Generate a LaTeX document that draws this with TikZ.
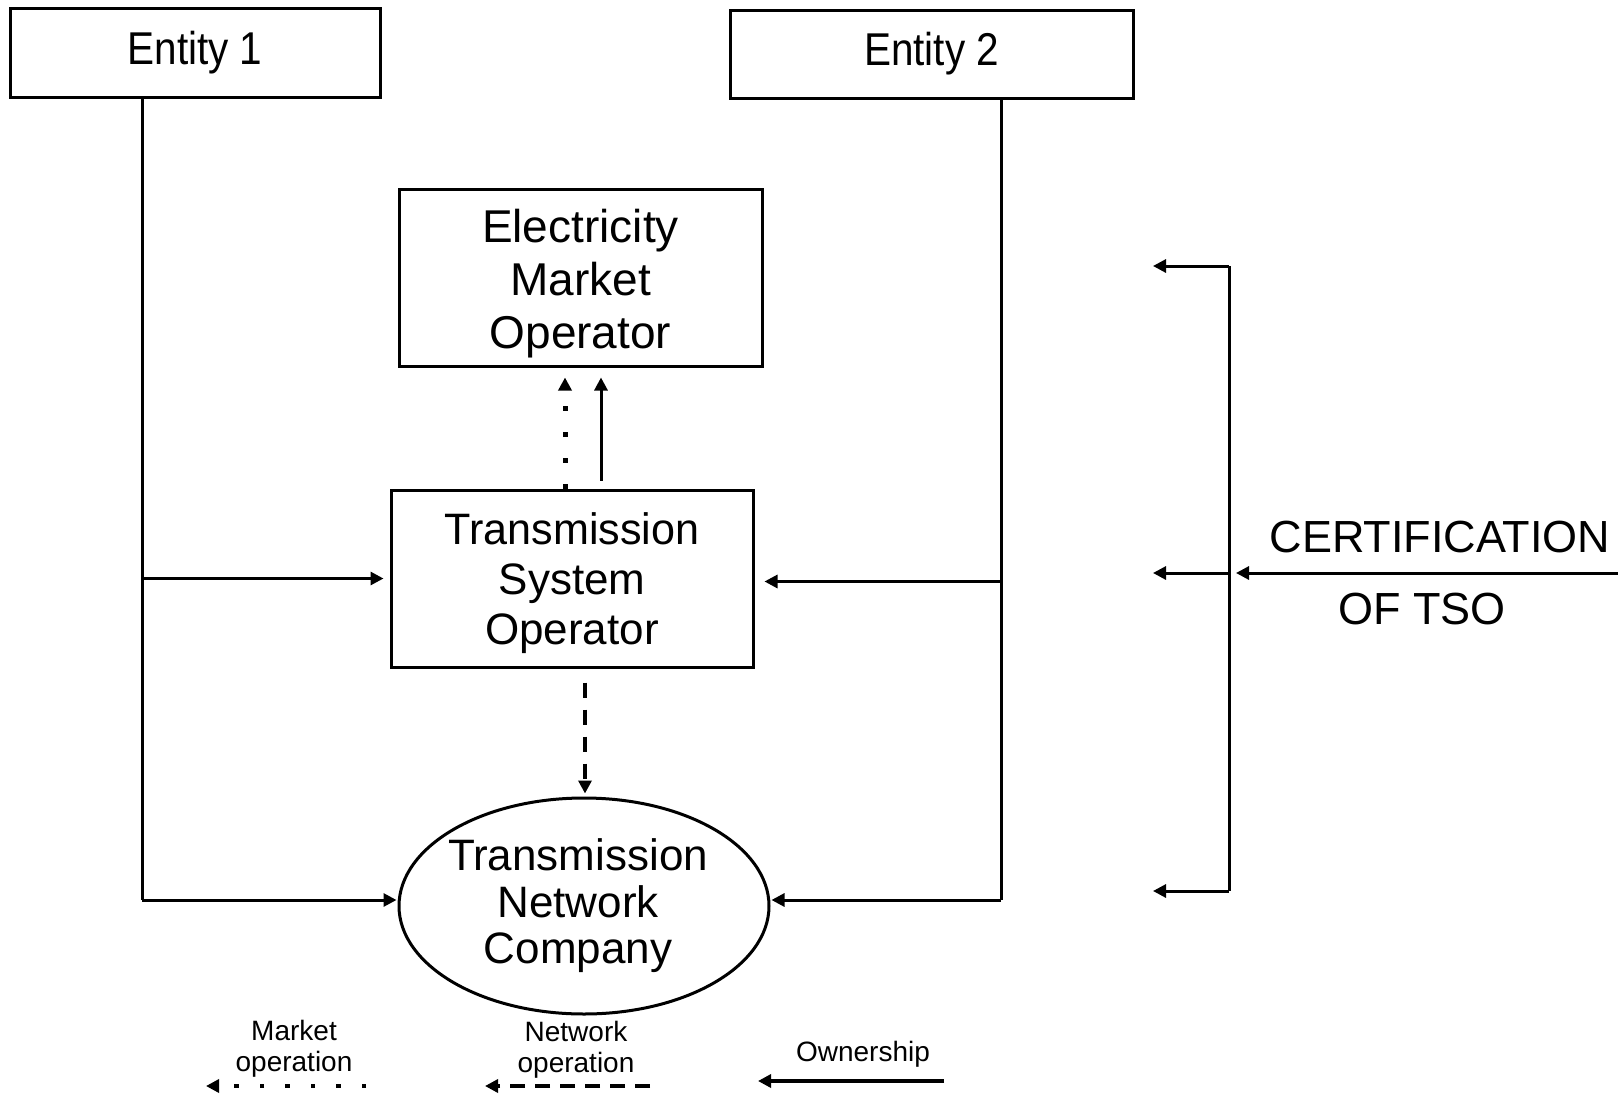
\documentclass[tikz,border=0pt]{standalone}
\usepackage{fontspec}
\setmainfont{Liberation Sans}
\usetikzlibrary{arrows.meta,shapes.geometric}
\begin{document}
\begin{tikzpicture}[x=1pt,y=-1pt,
  box/.style={draw, line width=3pt, inner sep=0pt, align=center},
  txt/.style={inner sep=0pt, align=center},
  tipst/.style={-{Triangle[length=13pt,width=13pt]}},
  conn/.style={line width=3pt, tipst},
  dotconn/.style={line width=5pt, dash pattern=on 5pt off 21pt, tipst},
  dashconn/.style={line width=4pt, dash pattern=on 15pt off 12pt, tipst},
  plainline/.style={line width=3pt},
  bigtxt/.style={font=\fontsize{46}{53}\selectfont},
  midtxt/.style={font=\fontsize{44}{50}\selectfont},
  smalltxt/.style={font=\fontsize{28}{31}\selectfont, align=center, inner sep=0pt}
]
\useasboundingbox (0,0) rectangle (1618,1095);

% boxes
\node[box, bigtxt, minimum width=370pt, minimum height=89pt] (e1) at (195,52.5) {\scalebox{0.88}[1]{Entity 1}};
\node[box, bigtxt, minimum width=403pt, minimum height=88pt] (e2) at (931.5,54) {\scalebox{0.88}[1]{Entity 2}};
\node[box, minimum width=363pt, minimum height=177pt] (emo) at (580.5,277.5) {};
\node[txt, bigtxt] (emot) at ([yshift=-6pt]emo.center) {Electricity\\Market\\Operator};
\node[box, minimum width=362pt, minimum height=177pt] (tso) at (572,578.5) {};
\node[txt, midtxt] (tsot) at ([yshift=-5pt]tso.center) {\scalebox{0.98}[1]{Transmission}\\System\\Operator};
\node[box, ellipse, minimum width=370pt, minimum height=216pt] (tnc) at (584,906) {};
\node[txt, font=\fontsize{44}{46.5}\selectfont] (tnct) at ([xshift=-6pt]tnc.center) {Transmission\\Network\\Company};

% entity 1 line
\coordinate (x1) at (142,0);
\coordinate (e1b) at (e1.south -| x1);
\coordinate (e1c) at ([yshift=6pt]x1 |- tnc.west);
\draw[plainline] (e1b) -- (e1c);
\draw[conn, shorten >=6pt] (x1 |- tso.west) -- (tso.west);
\draw[conn, shorten >=1pt] (e1c) -- ([yshift=6pt]tnc.west);

% entity 2 line
\coordinate (x2) at (1001,0);
\coordinate (e2b) at (e2.south -| x2);
\coordinate (e2c) at ([yshift=6pt]x2 |- tnc.east);
\draw[plainline] (e2b) -- (e2c);
\draw[conn, shorten >=10pt] ([yshift=-3pt]x2 |- tso.east) -- ([yshift=-3pt]tso.east);
\draw[conn, shorten >=1pt] (e2c) -- ([yshift=6pt]tnc.east);

% TSO -> EMO
\coordinate (xd) at (565,0);
\coordinate (xs) at (601,0);
\draw[dotconn, shorten >=10pt] (xd |- tso.north) -- (xd |- emo.south);
\draw[conn, shorten >=10pt, shorten <=8pt] (xs |- tso.north) -- (xs |- emo.south);

% TSO -> TNC
\coordinate (xt) at (585,0);
\draw[dashconn, shorten <=14pt, shorten >=3pt] (xt |- tso.south) -- (xt |- tnc.north);

% certification bracket
\coordinate (bt) at (1229,266);
\coordinate (bm) at (1229,573);
\coordinate (bb) at (1229,891);
\coordinate (at) at (1153,266);
\coordinate (am) at (1153,573);
\coordinate (ab) at (1153,891);
\coordinate (cr) at (1618,573);
\coordinate (ce) at (1236,573);
\draw[plainline] (bt) -- (bb);
\draw[conn] (bt) -- (at);
\draw[conn] (bm) -- (am);
\draw[conn] (bb) -- (ab);
\draw[conn] (cr) -- (ce);
\node[font=\fontsize{45}{50}\selectfont, inner sep=0pt] (cert) at (1440,537) {CERTIFICATION};
\node[font=\fontsize{45}{50}\selectfont, inner sep=0pt] (oftso) at (1422,609) {OF TSO};

% legend
\node[smalltxt] (lm) at (294,1049) {Market\\operation};
\node[smalltxt] (ln) at (576,1050) {Network\\operation};
\node[smalltxt] (lo) at (863,1054) {Ownership};
\coordinate (lm1) at (366,1086);
\coordinate (lm2) at (206,1086);
\coordinate (ln1) at (650,1086);
\coordinate (ln2) at (485,1086);
\coordinate (lo1) at (944,1081);
\coordinate (lo2) at (758,1081);
\draw[line width=4.5pt, dash pattern=on 4.5pt off 21pt, tipst] (lm1) -- (lm2);
\draw[line width=4.5pt, dash pattern=on 15pt off 10pt, tipst] (ln1) -- (ln2);
\draw[conn, line width=4pt] (lo1) -- (lo2);
\end{tikzpicture}
\end{document}
